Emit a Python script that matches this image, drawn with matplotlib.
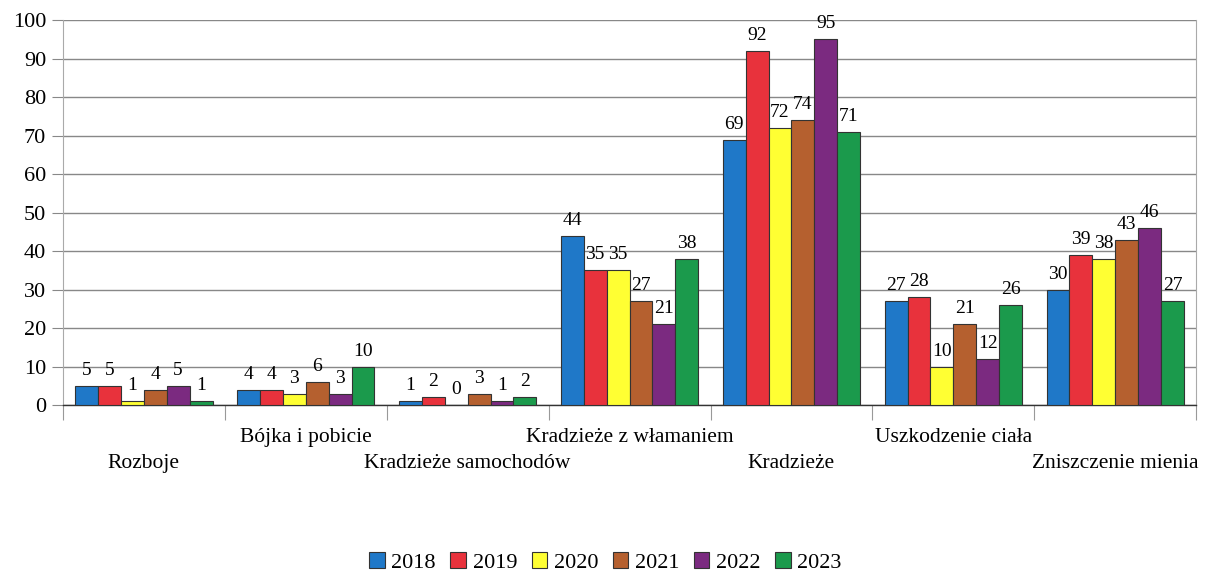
import numpy as np
import matplotlib
matplotlib.use("Agg")
import matplotlib.pyplot as plt

plt.rcParams["font.family"] = ["Liberation Serif", "DejaVu Serif"]

# ========================= 数据 =========================

categories = ["Rozboje", "Bójka i pobicie", "Kradzieże samochodów",
              "Kradzieże z włamaniem", "Kradzieże", "Uszkodzenie ciała",
              "Zniszczenie mienia"]
years = ["2018", "2019", "2020", "2021", "2022", "2023"]

v2018 = [5, 4, 1, 44, 69, 27, 30]
v2019 = [5, 4, 2, 35, 92, 28, 39]
v2020 = [1, 3, 0, 35, 72, 10, 38]
v2021 = [4, 6, 3, 27, 74, 21, 43]
v2022 = [5, 3, 1, 21, 95, 12, 46]
v2023 = [1, 10, 2, 38, 71, 26, 27]
series = [v2018, v2019, v2020, v2021, v2022, v2023]

colors = ["#1f78c8", "#e8323c", "#ffff33", "#b5602f", "#7b2a80", "#1b9a4c"]

# ========================= 绘图 =========================

fig = plt.figure(figsize=(12.06, 5.77), dpi=100)
ax = fig.add_axes([0.052, 0.298, 0.940, 0.667])

n = len(categories)
x = np.arange(n)
group_w = 0.85
bw = group_w / len(years)

for k, (vals, col, yr) in enumerate(zip(series, colors, years)):
    pos = x - group_w / 2 + bw * (k + 0.5)
    bars = ax.bar(pos, vals, width=bw, color=col, edgecolor="#333333",
                  linewidth=0.8, label=yr, zorder=3)
    for b, v in zip(bars, vals):
        ax.annotate(str(v), (b.get_x() + b.get_width() / 2, v),
                    xytext=(0, 5), textcoords="offset points",
                    ha="center", va="bottom", fontsize=14)

ax.set_xlim(-0.5, n - 0.5)
ax.set_ylim(0, 100)
ax.set_yticks(range(0, 101, 10))
ax.tick_params(axis="y", labelsize=16, length=8, color="#888888", pad=4)
ax.yaxis.grid(True, color="#888888", linewidth=1.0, zorder=0)

# x 轴刻度在类别边界
ax.set_xticks(np.arange(-0.5, n, 1.0))
ax.set_xticklabels([])
ax.tick_params(axis="x", length=11, color="#999999", width=0.8)
for i, cat in enumerate(categories):
    y_off = -0.085 if i % 2 == 1 else -0.152
    ax.text(i, y_off, cat, transform=ax.get_xaxis_transform(),
            ha="center", va="center", fontsize=15.5)

ax.spines["top"].set_visible(False)
ax.spines["left"].set_color("#aaaaaa")
ax.spines["right"].set_color("#aaaaaa")
ax.spines["bottom"].set_color("#333333")
ax.spines["bottom"].set_linewidth(1.0)

fig.legend(loc="lower center", bbox_to_anchor=(0.502, -0.027), ncol=6,
           frameon=False, fontsize=16, handlelength=0.7, handleheight=0.7,
           handletextpad=0.3, columnspacing=0.65)

fig.savefig("out.png", dpi=100)
